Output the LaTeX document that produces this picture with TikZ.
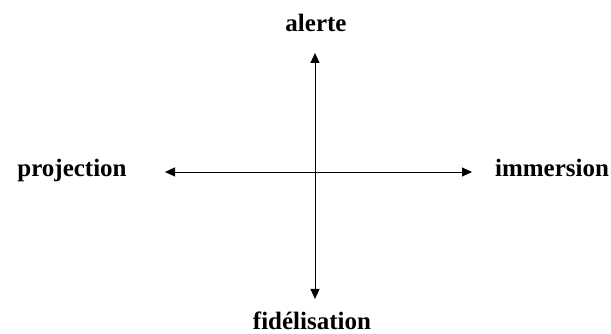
\documentclass[tikz,border=0pt]{standalone}
\usepackage{fontspec}
\setmainfont{Liberation Serif}
\usetikzlibrary{arrows.meta}
\begin{document}
\begin{tikzpicture}[x=1pt,y=1pt,
  lbl/.style={font=\fontsize{25}{30}\selectfont\bfseries, inner sep=0pt, anchor=base},
  axis/.style={line width=0.9pt, {Triangle[length=10pt,width=9pt]}-{Triangle[length=10pt,width=9pt]}}]
\useasboundingbox (0,0) rectangle (611,334);
\coordinate (top) at (315,281);
\coordinate (bot) at (315,35);
\coordinate (lft) at (165,162);
\coordinate (rgt) at (472,162);
\node[lbl] (alerte) at (316,302) {alerte};
\node[lbl] (fid) at (312,4) {fidélisation};
\node[lbl] (proj) at (72,157) {projection};
\node[lbl] (imm) at (552,157) {immersion};
\draw[axis] (bot) -- (top);
\draw[axis] (lft) -- (rgt);
\end{tikzpicture}
\end{document}
